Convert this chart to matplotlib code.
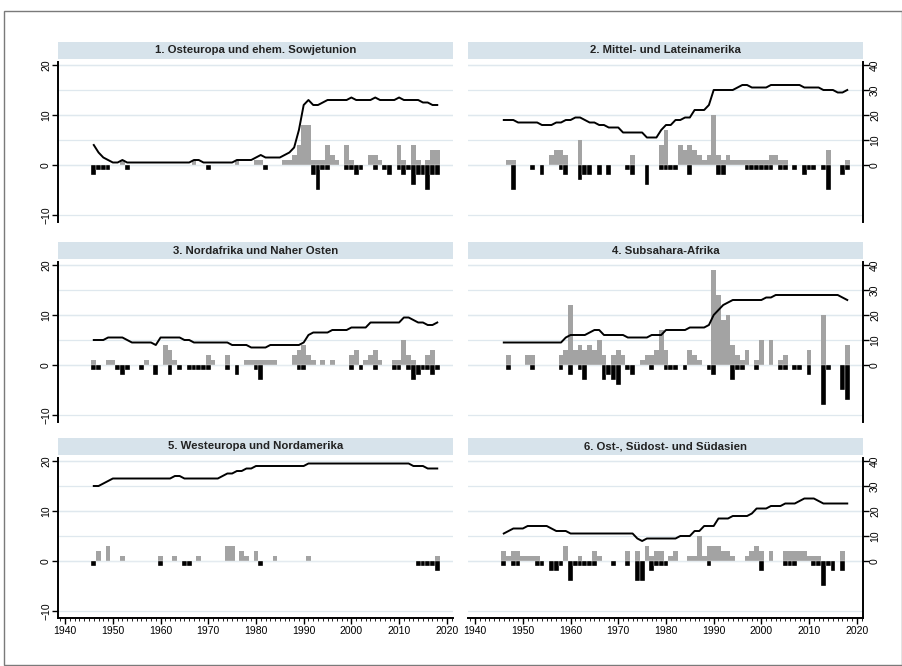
import matplotlib
matplotlib.use("Agg")
import matplotlib.pyplot as plt
from matplotlib.patches import Rectangle
from matplotlib.ticker import MultipleLocator

plt.rcParams["font.family"] = ["Liberation Sans", "DejaVu Sans"]

years = list(range(1946, 2019))

titles = [
    "1. Osteuropa und ehem. Sowjetunion",
    "2. Mittel- und Lateinamerika",
    "3. Nordafrika und Naher Osten",
    "4. Subsahara-Afrika",
    "5. Westeuropa und Nordamerika",
    "6. Ost-, Südost- und Südasien",
]

# Übergänge zur Demokratie (graue Balken, linke Achse)
gains_1 = [0, 0, 0, 0,
           0, 0, 1, 0, 0, 0, 0, 0, 0, 0,
           0, 0, 0, 0, 0, 0, 0, 1, 0, 0,
           0, 0, 0, 0, 0, 0, 1, 0, 0, 0,
           1, 1, 0, 0, 0, 0, 1, 1, 2, 4,
           8, 8, 1, 1, 1, 4, 2, 1, 0, 4,
           1, 0, 0, 0, 2, 2, 1, 0, 0, 0,
           4, 1, 0, 4, 1, 0, 1, 3, 3]
gains_2 = [0, 1, 1, 0,
           0, 0, 0, 0, 0, 0, 2, 3, 3, 2,
           0, 0, 5, 0, 0, 0, 0, 0, 0, 0,
           0, 0, 0, 2, 0, 0, 0, 0, 0, 4,
           7, 0, 0, 4, 3, 4, 3, 2, 1, 2,
           10, 2, 1, 2, 1, 1, 1, 1, 1, 1,
           1, 1, 2, 2, 1, 1, 0, 0, 0, 0,
           0, 0, 0, 0, 3, 0, 0, 0, 1]
gains_3 = [1, 0, 0, 1,
           1, 0, 0, 0, 0, 0, 0, 1, 0, 0,
           0, 4, 3, 1, 0, 0, 0, 0, 0, 0,
           2, 1, 0, 0, 2, 0, 0, 0, 1, 1,
           1, 1, 1, 1, 1, 0, 0, 0, 2, 3,
           4, 2, 1, 0, 1, 0, 1, 0, 0, 0,
           2, 3, 0, 1, 2, 3, 1, 0, 0, 1,
           1, 5, 2, 1, 0, 0, 2, 3, 0]
gains_4 = [0, 2, 0, 0,
           0, 2, 2, 0, 0, 0, 0, 0, 2, 3,
           12, 3, 4, 3, 4, 3, 5, 2, 0, 2,
           3, 2, 0, 0, 0, 1, 2, 2, 3, 7,
           3, 0, 0, 0, 0, 3, 2, 1, 0, 0,
           19, 14, 9, 10, 4, 2, 1, 3, 0, 1,
           5, 0, 5, 0, 1, 2, 0, 0, 0, 0,
           3, 0, 0, 10, 0, 0, 0, 0, 4]
gains_5 = [0, 2, 0, 3,
           0, 0, 1, 0, 0, 0, 0, 0, 0, 0,
           1, 0, 0, 1, 0, 0, 0, 0, 1, 0,
           0, 0, 0, 0, 3, 3, 0, 2, 1, 0,
           2, 0, 0, 0, 1, 0, 0, 0, 0, 0,
           0, 1, 0, 0, 0, 0, 0, 0, 0, 0,
           0, 0, 0, 0, 0, 0, 0, 0, 0, 0,
           0, 0, 0, 0, 0, 0, 0, 0, 1]
gains_6 = [2, 1, 2, 2,
           1, 1, 1, 1, 0, 0, 0, 0, 0, 3,
           0, 0, 1, 0, 0, 2, 1, 0, 0, 0,
           0, 0, 2, 0, 2, 0, 3, 1, 2, 2,
           0, 1, 2, 0, 0, 1, 1, 5, 1, 3,
           3, 3, 2, 2, 1, 0, 0, 1, 2, 3,
           2, 0, 2, 0, 0, 2, 2, 2, 2, 2,
           1, 1, 1, 0, 0, 0, 0, 2, 0]

# Zusammenbrüche (schwarze Balken, linke Achse)
losses_1 = [-2, -1, -1, -1,
            0, 0, 0, -1, 0, 0, 0, 0, 0, 0,
            0, 0, 0, 0, 0, 0, 0, 0, 0, 0,
            -1, 0, 0, 0, 0, 0, 0, 0, 0, 0,
            0, 0, -1, 0, 0, 0, 0, 0, 0, 0,
            0, 0, -2, -5, -1, -1, 0, 0, 0, -1,
            -1, -2, -1, 0, 0, -1, 0, -1, -2, 0,
            -1, -2, -1, -4, -2, -2, -5, -2, -2]
losses_2 = [0, 0, -5, 0,
            0, 0, -1, 0, -2, 0, 0, 0, -1, -2,
            0, 0, -3, -2, -2, 0, -2, 0, -2, 0,
            0, 0, -1, -2, 0, 0, -4, 0, 0, -1,
            -1, -1, -1, 0, 0, -2, 0, 0, 0, 0,
            0, -2, -2, 0, 0, 0, 0, -1, -1, -1,
            -1, -1, -1, 0, -1, -1, 0, -1, 0, -2,
            -1, -1, 0, -1, -5, 0, 0, -2, -1]
losses_3 = [-1, -1, 0, 0,
            0, -1, -2, -1, 0, 0, -1, 0, 0, -2,
            0, 0, -2, 0, -1, 0, -1, -1, -1, -1,
            -1, 0, 0, 0, -1, 0, -2, 0, 0, 0,
            -1, -3, 0, 0, 0, 0, 0, 0, 0, -1,
            -1, 0, 0, 0, 0, 0, 0, 0, 0, 0,
            -1, 0, -1, 0, 0, -1, 0, 0, 0, -1,
            -1, 0, -1, -3, -2, -1, -1, -2, -1]
losses_4 = [0, -1, 0, 0,
            0, 0, -1, 0, 0, 0, 0, 0, -1, 0,
            -2, 0, -1, -3, 0, 0, 0, -3, -2, -3,
            -4, 0, -1, -2, 0, 0, 0, -1, 0, 0,
            -1, -1, -1, 0, -1, 0, 0, 0, 0, -1,
            -2, 0, 0, 0, -3, -1, -1, 0, 0, -1,
            0, 0, 0, 0, -1, -1, 0, -1, -1, 0,
            -2, 0, 0, -8, -1, 0, 0, -5, -7]
losses_5 = [-1, 0, 0, 0,
            0, 0, 0, 0, 0, 0, 0, 0, 0, 0,
            -1, 0, 0, 0, 0, -1, -1, 0, 0, 0,
            0, 0, 0, 0, 0, 0, 0, 0, 0, 0,
            0, -1, 0, 0, 0, 0, 0, 0, 0, 0,
            0, 0, 0, 0, 0, 0, 0, 0, 0, 0,
            0, 0, 0, 0, 0, 0, 0, 0, 0, 0,
            0, 0, 0, 0, -1, -1, -1, -1, -2]
losses_6 = [-1, 0, -1, -1,
            0, 0, 0, -1, -1, 0, -2, -2, -1, 0,
            -4, -1, -1, -1, -1, -1, 0, 0, 0, -1,
            0, 0, -1, 0, -4, -4, 0, -2, -1, -1,
            -1, 0, 0, 0, 0, 0, 0, 0, 0, -1,
            0, 0, 0, 0, 0, 0, 0, 0, 0, 0,
            -2, 0, 0, 0, 0, -1, -1, -1, 0, 0,
            0, -1, -1, -5, -1, -2, 0, -2, 0]

# Anzahl der Demokratien (Linie, rechte Achse)
level_1 = [8, 5, 3, 2,
           1, 1, 2, 1, 1, 1, 1, 1, 1, 1,
           1, 1, 1, 1, 1, 1, 1, 2, 2, 1,
           1, 1, 1, 1, 1, 1, 2, 2, 2, 2,
           3, 4, 3, 3, 3, 3, 4, 5, 7, 14,
           24, 26, 24, 24, 25, 26, 26, 26, 26, 26,
           27, 26, 26, 26, 26, 27, 26, 26, 26, 26,
           27, 26, 26, 26, 26, 25, 25, 24, 24]
level_2 = [18, 18, 18, 17,
           17, 17, 17, 17, 16, 16, 16, 17, 17, 18,
           18, 19, 19, 18, 17, 17, 16, 16, 15, 15,
           15, 13, 13, 13, 13, 13, 11, 11, 11, 14,
           16, 16, 18, 18, 19, 19, 22, 22, 22, 24,
           30, 30, 30, 30, 30, 31, 32, 32, 31, 31,
           31, 31, 32, 32, 32, 32, 32, 32, 32, 31,
           31, 31, 31, 30, 30, 30, 29, 29, 30]
level_3 = [10, 10, 10, 11,
           11, 11, 11, 10, 9, 9, 9, 9, 9, 8,
           11, 11, 11, 11, 11, 10, 10, 9, 9, 9,
           9, 9, 9, 9, 9, 8, 8, 8, 8, 7,
           7, 7, 7, 8, 8, 8, 8, 8, 8, 8,
           9, 12, 13, 13, 13, 13, 14, 14, 14, 14,
           15, 15, 15, 15, 17, 17, 17, 17, 17, 17,
           17, 19, 19, 18, 17, 17, 16, 16, 17]
level_4 = [9, 9, 9, 9,
           9, 9, 9, 9, 9, 9, 9, 9, 9, 11,
           12, 12, 12, 12, 13, 14, 14, 12, 12, 12,
           12, 12, 11, 11, 11, 11, 11, 12, 12, 12,
           14, 14, 14, 14, 14, 15, 15, 15, 15, 16,
           20, 22, 24, 25, 26, 26, 26, 26, 26, 26,
           26, 27, 27, 28, 28, 28, 28, 28, 28, 28,
           28, 28, 28, 28, 28, 28, 28, 27, 26]
level_5 = [30, 30, 31, 32,
           33, 33, 33, 33, 33, 33, 33, 33, 33, 33,
           33, 33, 33, 34, 34, 33, 33, 33, 33, 33,
           33, 33, 33, 34, 35, 35, 36, 36, 37, 37,
           38, 38, 38, 38, 38, 38, 38, 38, 38, 38,
           38, 39, 39, 39, 39, 39, 39, 39, 39, 39,
           39, 39, 39, 39, 39, 39, 39, 39, 39, 39,
           39, 39, 39, 38, 38, 38, 37, 37, 37]
level_6 = [11, 12, 13, 13,
           13, 14, 14, 14, 14, 14, 13, 12, 12, 12,
           11, 11, 11, 11, 11, 11, 11, 11, 11, 11,
           11, 11, 11, 11, 9, 8, 9, 9, 9, 9,
           9, 9, 9, 10, 10, 10, 12, 12, 14, 14,
           14, 17, 17, 17, 18, 18, 18, 18, 19, 21,
           21, 21, 22, 22, 22, 23, 23, 23, 24, 25,
           25, 25, 24, 23, 23, 23, 23, 23, 23]

left_ticks = [-10, 0, 10, 20]
right_ticks = [0, 10, 20, 30, 40]
x_ticks = list(range(1940, 2021, 10))

panels = [
    (titles[0], gains_1, losses_1, level_1),
    (titles[1], gains_2, losses_2, level_2),
    (titles[2], gains_3, losses_3, level_3),
    (titles[3], gains_4, losses_4, level_4),
    (titles[4], gains_5, losses_5, level_5),
    (titles[5], gains_6, losses_6, level_6),
]

W, H = 903, 666
fig = plt.figure(figsize=(W / 100, H / 100), dpi=100)

# outer frame
fig.patches.append(Rectangle((4 / W, 1 / H), 898 / W, 654 / H, transform=fig.transFigure,
                             fill=False, edgecolor="#7a7a7a", lw=1.0))

col_x = [(58, 453), (468, 863)]
row_y = [(62, 222), (262, 422), (458, 618)]
grid_color = "#dfe8ee"
strip_color = "#d7e3eb"

for i, (title, gains, losses, level) in enumerate(panels):
    r, c = divmod(i, 2)
    x0, x1 = col_x[c]
    y0, y1 = row_y[r]
    ax = fig.add_axes([x0 / W, 1 - y1 / H, (x1 - x0) / W, (y1 - y0) / H])
    ax2 = ax.twinx()

    for v in left_ticks + [t / 2 for t in right_ticks]:
        ax.axhline(v, color=grid_color, lw=0.9, zorder=0)

    ax.bar(years, gains, width=1.0, color="#a3a3a3", lw=0, zorder=2)
    ax.bar(years, losses, width=1.0, color="black", edgecolor="white", lw=0.25, zorder=2)
    ax2.plot(years, level, color="black", lw=1.4, zorder=3)

    ax.set_xlim(1938.5, 2021.3)
    ax.set_ylim(-11.4, 20.6)
    ax2.set_ylim(-22.8, 41.2)

    for s in ax.spines.values():
        s.set_visible(False)
    for s in ax2.spines.values():
        s.set_visible(False)

    ax.set_yticks(left_ticks)
    ax2.set_yticks(right_ticks)
    if c == 0:
        ax.spines["left"].set_visible(True)
        ax.spines["left"].set_linewidth(1.4)
        ax.tick_params(axis="y", length=4, width=1, labelsize=7.5, pad=1)
        for lab in ax.get_yticklabels():
            lab.set_rotation(90)
            lab.set_va("center")
        ax2.tick_params(axis="y", right=False, labelright=False)
    else:
        ax.tick_params(axis="y", left=False, labelleft=False)
        ax2.spines["right"].set_visible(True)
        ax2.spines["right"].set_linewidth(1.4)
        ax2.tick_params(axis="y", length=4, width=1, labelsize=7.5, pad=1)
        for lab in ax2.get_yticklabels():
            lab.set_rotation(90)
            lab.set_va("center")

    ax.set_xticks(x_ticks)
    ax.xaxis.set_minor_locator(MultipleLocator(1))
    if r == 2:
        ax.spines["bottom"].set_visible(True)
        ax.spines["bottom"].set_linewidth(1.4)
        ax.tick_params(axis="x", which="major", length=4, width=1, labelsize=7.5, pad=2)
        ax.tick_params(axis="x", which="minor", length=2, width=0.6)
    else:
        ax.tick_params(axis="x", which="both", bottom=False, labelbottom=False)

    # title strip
    ax.add_patch(Rectangle((0, 1 + 3 / (y1 - y0)), 1, 17 / (y1 - y0), transform=ax.transAxes,
                           facecolor=strip_color, edgecolor="none", clip_on=False))
    ax.text(0.5, 1 + 11.5 / (y1 - y0), title, transform=ax.transAxes, ha="center", va="center",
            fontsize=8.2, fontweight="bold", color="#222222")

fig.savefig("out.png", dpi=100)
